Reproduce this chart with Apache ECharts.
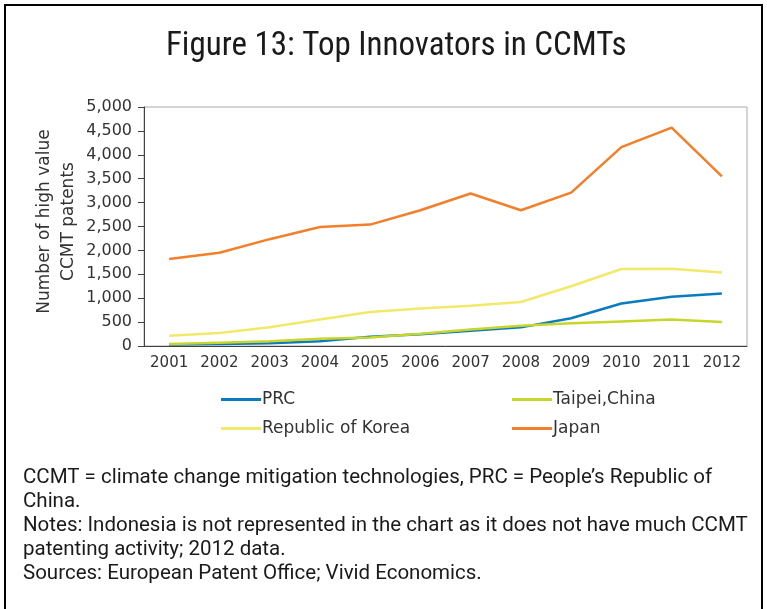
<!DOCTYPE html>
<html>
<head>
<meta charset="utf-8">
<script src="https://cdn.jsdelivr.net/npm/echarts@6/dist/echarts.min.js"></script>
<style>
  html, body { margin: 0; padding: 0; background: #fff; }
  #chart { width: 767px; height: 609px; }
</style>
</head>
<body>
<div id="chart"></div>
<script>
  var years = ['2001', '2002', '2003', '2004', '2005', '2006', '2007', '2008', '2009', '2010', '2011', '2012']
  var prc = [30, 40, 60, 100, 195, 245, 320, 390, 580, 890, 1030, 1100]
  var taipei = [40, 70, 100, 150, 180, 255, 345, 425, 475, 515, 555, 500]
  var korea = [215, 270, 390, 555, 710, 785, 840, 920, 1250, 1610, 1615, 1540]
  var japan = [1820, 1950, 2235, 2490, 2540, 2840, 3190, 2840, 3210, 4160, 4570, 3550]
  var yTicks = [0, 500, 1000, 1500, 2000, 2500, 3000, 3500, 4000, 4500, 5000]

  var notes = [
    'CCMT = climate change mitigation technologies, PRC = People\u2019s Republic of',
    'China.',
    'Notes: Indonesia is not represented in the chart as it does not have much CCMT',
    'patenting activity; 2012 data.',
    'Sources: European Patent Office; Vivid Economics.'
  ]

  var labelFont = 'DejaVu Sans'
  var titleFont = '"Liberation Sans Narrow", "Roboto Condensed", Roboto, sans-serif'
  var noteFont = 'Roboto'

  var myChart = echarts.init(document.getElementById('chart'))

  function line(name, data, color) {
    return {
      name: name,
      type: 'line',
      data: data,
      symbol: 'none',
      lineStyle: { color: color, width: 2.5 },
      itemStyle: { color: color }
    }
  }

  myChart.setOption({
    animation: false,
    title: {
      text: 'Figure 13: Top Innovators in CCMTs',
      left: 161,
      top: 25,
      textStyle: {
        fontFamily: titleFont,
        fontSize: 33,
        fontWeight: 'normal',
        color: '#1a1a1a'
      }
    },
    graphic: [
      {
        type: 'rect',
        shape: { x: 5, y: 5, width: 757, height: 640 },
        style: { fill: 'none', stroke: '#000', lineWidth: 2 },
        silent: true
      },
      {
        type: 'text',
        left: 23,
        top: 466,
        style: {
          text: notes.join('\n'),
          font: '20.5px ' + noteFont,
          lineHeight: 24,
          fill: '#1a1a1a'
        }
      }
    ],
    legend: [
      {
        data: ['PRC', 'Republic of Korea'],
        orient: 'vertical',
        left: 216,
        top: 386,
        icon: 'rect',
        itemWidth: 40,
        itemHeight: 3,
        itemGap: 12,
        textStyle: { fontFamily: labelFont, fontSize: 17, color: '#333', padding: [0, 0, 0, -4] }
      },
      {
        data: ['Taipei,China', 'Japan'],
        orient: 'vertical',
        left: 507,
        top: 386,
        icon: 'rect',
        itemWidth: 40,
        itemHeight: 3,
        itemGap: 12,
        textStyle: { fontFamily: labelFont, fontSize: 17, color: '#333', padding: [0, 0, 0, -4] }
      }
    ],
    grid: {
      left: 144,
      right: 20,
      top: 107,
      bottom: 263,
      show: true,
      borderColor: '#aaaaaa',
      borderWidth: 1
    },
    xAxis: {
      type: 'category',
      data: years,
      boundaryGap: true,
      axisLine: { lineStyle: { color: '#404040', width: 1 } },
      axisTick: { length: 5, lineStyle: { color: '#404040' } },
      axisLabel: { margin: 10, fontFamily: labelFont, fontSize: 15, color: '#333' }
    },
    yAxis: {
      type: 'value',
      min: 0,
      max: 5000,
      interval: 500,
      name: 'Number of high value\nCCMT patents',
      nameLocation: 'middle',
      nameRotate: 90,
      nameGap: 63,
      nameMoveOverlap: false,
      nameTextStyle: { fontFamily: labelFont, fontSize: 17, color: '#333', lineHeight: 24, padding: [0, 0, 0, 10] },
      splitLine: { show: false },
      axisLine: { show: true, lineStyle: { color: '#404040', width: 1 } },
      axisTick: { show: true, length: 6, lineStyle: { color: '#404040' } },
      axisLabel: {
        margin: 12,
        fontFamily: labelFont,
        fontSize: 16,
        color: '#333',
        formatter: function (v) {
          return yTicks.indexOf(v) >= 0 ? v.toLocaleString('en-US') : ''
        }
      }
    },
    series: [
      line('PRC', prc, '#0a7bbd'),
      line('Taipei,China', taipei, '#c8d62c'),
      line('Republic of Korea', korea, '#f2e96a'),
      line('Japan', japan, '#f47f2a')
    ]
  })
</script>
</body>
</html>
